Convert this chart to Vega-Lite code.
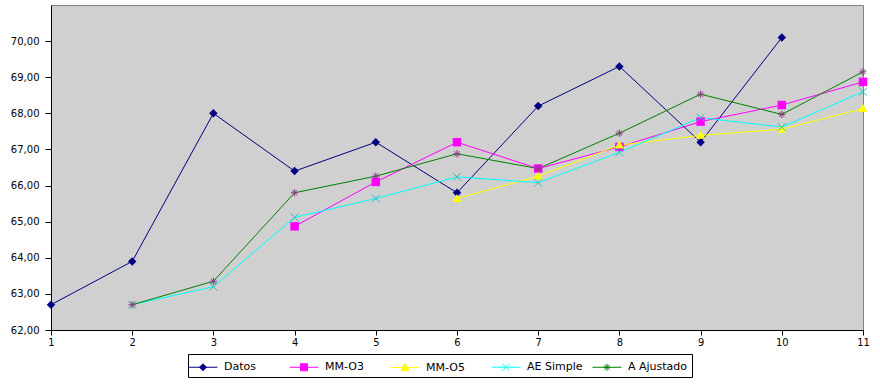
{
  "$schema": "https://vega.github.io/schema/vega-lite/v6.json",
  "width": 812,
  "height": 325,
  "autosize": "none",
  "padding": {"left": 51, "top": 5, "right": 17, "bottom": 55},
  "background": "white",
  "config": {
    "view": {"fill": "#d0d0d0", "stroke": "#808080", "strokeWidth": 1},
    "font": "DejaVu Sans"
  },
  "data": {
    "values": [
      {"x": 1, "series": "Datos", "value": 62.7},
      {"x": 2, "series": "Datos", "value": 63.9},
      {"x": 3, "series": "Datos", "value": 68.0},
      {"x": 4, "series": "Datos", "value": 66.4},
      {"x": 5, "series": "Datos", "value": 67.2},
      {"x": 6, "series": "Datos", "value": 65.8},
      {"x": 7, "series": "Datos", "value": 68.2},
      {"x": 8, "series": "Datos", "value": 69.3},
      {"x": 9, "series": "Datos", "value": 67.2},
      {"x": 10, "series": "Datos", "value": 70.1},
      {"x": 4, "series": "MM-O3", "value": 64.87},
      {"x": 5, "series": "MM-O3", "value": 66.1},
      {"x": 6, "series": "MM-O3", "value": 67.2},
      {"x": 7, "series": "MM-O3", "value": 66.47},
      {"x": 8, "series": "MM-O3", "value": 67.07},
      {"x": 9, "series": "MM-O3", "value": 67.77},
      {"x": 10, "series": "MM-O3", "value": 68.23},
      {"x": 11, "series": "MM-O3", "value": 68.87},
      {"x": 6, "series": "MM-O5", "value": 65.64},
      {"x": 7, "series": "MM-O5", "value": 66.26},
      {"x": 8, "series": "MM-O5", "value": 67.12},
      {"x": 9, "series": "MM-O5", "value": 67.39},
      {"x": 10, "series": "MM-O5", "value": 67.56},
      {"x": 11, "series": "MM-O5", "value": 68.13},
      {"x": 2, "series": "AE Simple", "value": 62.7},
      {"x": 3, "series": "AE Simple", "value": 63.2},
      {"x": 4, "series": "AE Simple", "value": 65.12},
      {"x": 5, "series": "AE Simple", "value": 65.64},
      {"x": 6, "series": "AE Simple", "value": 66.24},
      {"x": 7, "series": "AE Simple", "value": 66.08},
      {"x": 8, "series": "AE Simple", "value": 66.92},
      {"x": 9, "series": "AE Simple", "value": 67.88},
      {"x": 10, "series": "AE Simple", "value": 67.62},
      {"x": 11, "series": "AE Simple", "value": 68.6},
      {"x": 2, "series": "A Ajustado", "value": 62.7},
      {"x": 3, "series": "A Ajustado", "value": 63.35},
      {"x": 4, "series": "A Ajustado", "value": 65.8},
      {"x": 5, "series": "A Ajustado", "value": 66.26},
      {"x": 6, "series": "A Ajustado", "value": 66.88},
      {"x": 7, "series": "A Ajustado", "value": 66.47},
      {"x": 8, "series": "A Ajustado", "value": 67.45},
      {"x": 9, "series": "A Ajustado", "value": 68.53},
      {"x": 10, "series": "A Ajustado", "value": 67.97},
      {"x": 11, "series": "A Ajustado", "value": 69.15}
    ]
  },
  "encoding": {
    "x": {
      "field": "x",
      "type": "quantitative",
      "scale": {"domain": [1, 11], "nice": false, "zero": false},
      "axis": {
        "title": null,
        "values": [1, 2, 3, 4, 5, 6, 7, 8, 9, 10, 11],
        "format": "d",
        "grid": false,
        "labelFlush": false,
        "labelFont": "DejaVu Sans Condensed",
        "labelFontSize": 11,
        "labelColor": "black",
        "labelPadding": 1,
        "tickSize": 5,
        "tickColor": "black",
        "domainColor": "black",
        "labelOverlap": false
      }
    },
    "y": {
      "field": "value",
      "type": "quantitative",
      "scale": {"domain": [62, 71], "nice": false, "zero": false},
      "axis": {
        "title": null,
        "values": [62, 63, 64, 65, 66, 67, 68, 69, 70],
        "labelExpr": "replace(format(datum.value, '.2f'), '.', ',')",
        "grid": false,
        "labelFont": "DejaVu Sans",
        "labelFontSize": 10,
        "labelColor": "black",
        "labelPadding": 6,
        "tickSize": 6,
        "tickColor": "black",
        "domainColor": "black",
        "labelOverlap": false
      }
    }
  },
  "layer": [
    {
      "mark": {"type": "line", "strokeWidth": 1},
      "encoding": {
        "color": {
          "field": "series",
          "type": "nominal",
          "scale": {
            "domain": ["Datos", "MM-O3", "MM-O5", "AE Simple", "A Ajustado"],
            "range": ["#000080", "#ff00ff", "#ffff00", "#00ffff", "#008000"]
          },
          "legend": {
            "orient": "none",
            "legendX": 137,
            "legendY": 349,
            "direction": "horizontal",
            "columns": 5,
            "gridAlign": "all",
            "title": null,
            "strokeColor": "black",
            "fillColor": "white",
            "padding": 4,
            "symbolSize": 289,
            "symbolStrokeWidth": 1,
            "labelFont": "DejaVu Sans",
            "labelFontSize": 11,
            "labelColor": "black",
            "labelOffset": 14,
            "columnPadding": 3,
            "labelLimit": 200,
            "encode": {
              "symbols": {
                "update": {
                  "shape": {"signal": "datum.value === 'Datos' ? 'M-1.47,0H1.94M0.235,-0.41L0.645,0L0.235,0.41L-0.175,0Z' : datum.value === 'MM-O3' ? 'M-1.47,0H1.94M-0.175,-0.41H0.645V0.41H-0.175Z' : datum.value === 'MM-O5' ? 'M-1.47,0H1.94M0.235,-0.47L0.7,0.35H-0.23Z' : datum.value === 'AE Simple' ? 'M-1.47,0H1.94M-0.175,-0.41L0.645,0.41M-0.175,0.41L0.645,-0.41' : 'M-1.47,0H1.94M0.235,-0.41V0.41M-0.175,0H0.645M-0.055,-0.29L0.525,0.29M-0.055,0.29L0.525,-0.29'"},
                  "fill": {"signal": "scale('color', datum.value)"},
                  "stroke": {"signal": "scale('color', datum.value)"},
                  "strokeWidth": {"value": 1},
                  "opacity": {"value": 1}
                }
              }
            }
          }
        }
      }
    },
    {
      "transform": [{"filter": {"field": "series", "equal": "Datos"}}],
      "mark": {"type": "point", "filled": true, "opacity": 1, "strokeWidth": 0, "size": 72, "fill": "#000080", "shape": "M0,-1L1,0L0,1L-1,0Z"}
    },
    {
      "transform": [{"filter": {"field": "series", "equal": "MM-O3"}}],
      "mark": {"type": "point", "filled": true, "opacity": 1, "strokeWidth": 0, "size": 72, "fill": "#ff00ff", "shape": "M-1,-1H1V1H-1Z"}
    },
    {
      "transform": [{"filter": {"field": "series", "equal": "MM-O5"}}],
      "mark": {"type": "point", "filled": true, "opacity": 1, "strokeWidth": 0, "size": 72, "fill": "#ffff00", "shape": "M0,-1.1L1.1,0.8H-1.1Z"}
    },
    {
      "transform": [{"filter": {"field": "series", "equal": "AE Simple"}}],
      "mark": {"type": "point", "filled": false, "opacity": 1, "strokeWidth": 1, "size": 64, "stroke": "#30b8b8", "shape": "M-1,-1L1,1M-1,1L1,-1"}
    },
    {
      "transform": [{"filter": {"field": "series", "equal": "A Ajustado"}}],
      "mark": {"type": "point", "filled": false, "opacity": 1, "strokeWidth": 1, "size": 56, "stroke": "#804080", "shape": "M0,-1V1M-1,0H1M-0.7,-0.7L0.7,0.7M-0.7,0.7L0.7,-0.7"}
    }
  ]
}
